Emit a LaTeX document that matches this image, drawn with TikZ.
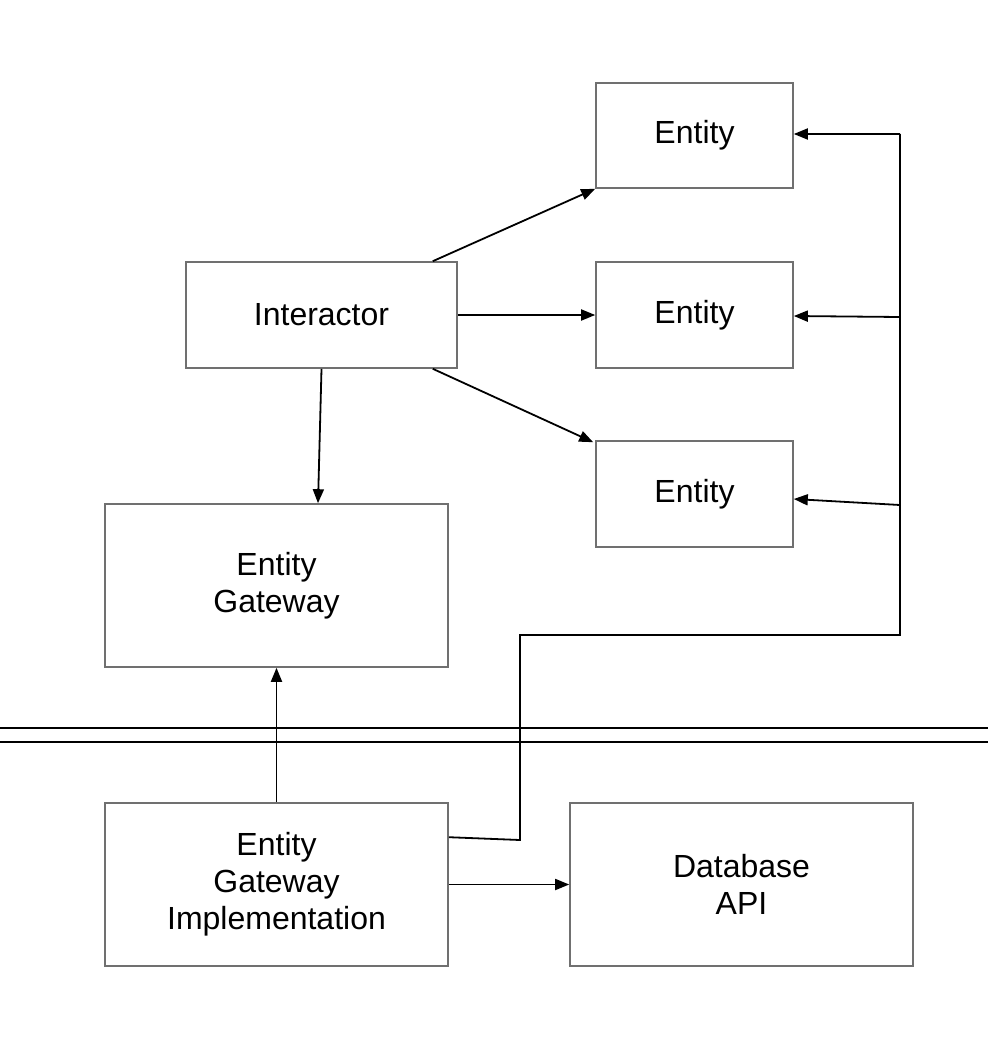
\documentclass[tikz,border=0pt]{standalone}
\usepackage{fontspec}
\setmainfont{Liberation Sans}
\usetikzlibrary{arrows.meta, calc}
\definecolor{boxgray}{RGB}{112,112,112}

\begin{document}
\begin{tikzpicture}[x=1pt, y=-1pt,
  box/.style={draw=boxgray, line width=1.6, inner sep=0, align=center,
    font=\fontsize{32}{37}\selectfont},
  link/.style={draw=black, line width=1.8, -{Triangle[length=14, width=11]}},
  wire/.style={draw=black, line width=1.8}]
\useasboundingbox (0,0) rectangle (988,1038);
% 盒子
\node[box, minimum width=197, minimum height=105] (ent1) at (694.5,135.5) {Entity};
\node[box, minimum width=197, minimum height=106] (ent2) at (694.5,315) {Entity};
\node[box, minimum width=197, minimum height=106] (ent3) at (694.5,494) {Entity};
\node[box, minimum width=271, minimum height=106] (inter) at (321.5,315) {Interactor};
\node[box, minimum width=343, minimum height=163] (gate) at (276.5,585.5) {Entity\\Gateway};
\node[box, minimum width=343, minimum height=163] (gateimpl) at (276.5,884.5) {Entity\\Gateway\\Implementation};
\node[box, minimum width=343, minimum height=163] (dbapi) at (741.5,884.5) {Database\\API};
% 分界线
\draw[line width=2] (0,728) -- (988,728);
\draw[line width=2] (0,742) -- (988,742);
% 箭头
\draw[link] ($(inter.north east)+(-25,0)$) -- (ent1.south west);
\draw[link] (inter.east) -- (ent2.west);
\draw[link] ($(inter.south east)+(-25,0)$) -- ($(ent3.north west)+(-2,2)$);
\draw[link] (inter.south) -- ($(gate.north)+(41.5,0)$);
\draw[link] (gateimpl.north) -- (gate.south);
\draw[link] (gateimpl.east) -- (dbapi.west);
% 总线
\coordinate (busA) at (520,840);
\coordinate (busB) at (520,635);
\coordinate (busC) at (900,635);
\coordinate (busD) at (900,134);
\coordinate (tapB) at (900,317);
\coordinate (tapC) at (900,505);
\draw[wire] ($(gateimpl.north east)+(0,35)$) -- (busA) -- (busB) -- (busC) -- (busD);
\draw[link] (busD) -- ($(ent1.east)+(0,-1.5)$);
\draw[link] (tapB) -- ($(ent2.east)+(0,1)$);
\draw[link] (tapC) -- ($(ent3.east)+(0,5)$);
\end{tikzpicture}
\end{document}
